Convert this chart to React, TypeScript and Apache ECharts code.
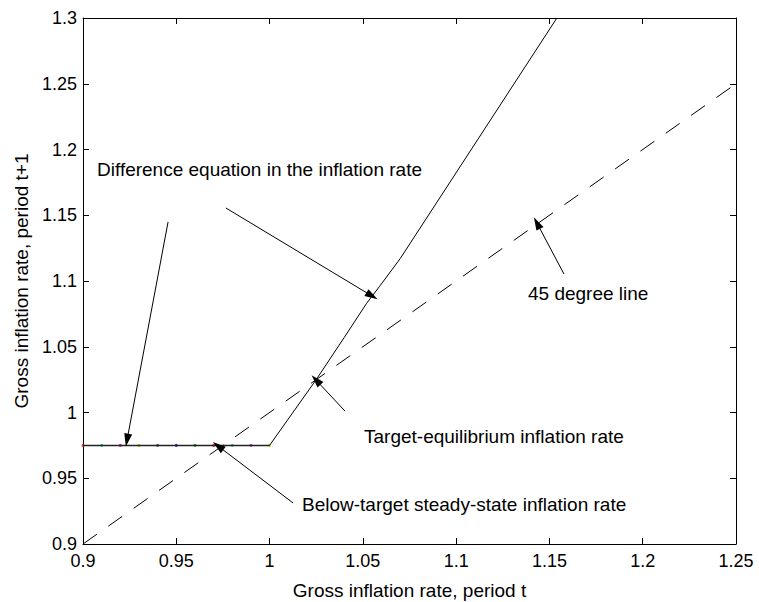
import React, { useEffect, useRef } from "react";
import * as echarts from "echarts";

// Horizontal (lower-bound) branch of the difference equation
const flatX = [0.9, 0.91, 0.92, 0.93, 0.94, 0.95, 0.96, 0.97, 0.98, 0.99, 1.0];
const flatY = [0.975, 0.975, 0.975, 0.975, 0.975, 0.975, 0.975, 0.975, 0.975, 0.975, 0.975];
// Rising branch of the difference equation
const curveX = [1.0, 1.025, 1.04, 1.052, 1.059, 1.07, 1.154];
const curveY = [0.975, 1.025, 1.057, 1.083, 1.096, 1.117, 1.3];
// 45 degree line
const diagX = [0.9, 1.25];
const diagY = [0.9, 1.25];
// Axis ticks
const xMin = 0.9, xMax = 1.25, xStep = 0.05;
const yMin = 0.9, yMax = 1.3, yStep = 0.05;
// Annotation texts
const labelDiff = "Difference equation in the inflation rate";
const label45 = "45 degree line";
const labelTarget = "Target-equilibrium inflation rate";
const labelBelow = "Below-target steady-state inflation rate";
// Arrows: [tailX, tailY, tipX, tipY] in data units
const arrows = [
  [0.9456, 1.1449, 0.9236, 0.979],
  [0.9766, 1.1555, 1.0549, 1.0886],
  [1.1578, 1.1053, 1.1433, 1.1441],
  [1.0404, 1.0011, 1.0249, 1.0247],
  [1.0126, 0.9312, 0.9724, 0.9745],
];
const dotColors = ["#008000", "#ff0000", "#00bfbf", "#bf00bf", "#bfbf00", "#404040", "#0000ff"];

const FONT = "'Liberation Sans', Arial, Helvetica, sans-serif";

export default function App() {
  const ref = useRef<HTMLDivElement>(null);
  useEffect(() => {
    if (!ref.current) return;
    const chart = echarts.init(ref.current, null, { renderer: "svg" });
    const fmt = (v: number) => String(+v.toFixed(2));
    const axisCommon = {
      type: "value" as const,
      splitLine: { show: false },
      axisLine: { show: true, onZero: false, lineStyle: { color: "#000", width: 1 } },
      axisTick: { show: true, inside: true, length: 6, lineStyle: { color: "#000" } },
    };
    const option: any = {
      animation: false,
      backgroundColor: "#fff",
      textStyle: { fontFamily: FONT },
      grid: { left: 83, top: 18, width: 653, height: 526, containLabel: false, outerBoundsMode: "none" },
      xAxis: [
        {
          ...axisCommon,
          min: xMin, max: xMax, interval: xStep,
          position: "bottom",
          axisLabel: { formatter: fmt, color: "#000", fontSize: 18, fontFamily: FONT, margin: 8 },
          name: "Gross inflation rate, period t",
          nameLocation: "middle",
          nameGap: 37,
          nameTextStyle: { color: "#000", fontSize: 19, fontFamily: FONT },
        },
        {
          ...axisCommon,
          min: xMin, max: xMax, interval: xStep,
          position: "top",
          axisLabel: { show: false },
        },
      ],
      yAxis: [
        {
          ...axisCommon,
          min: yMin, max: yMax, interval: yStep,
          position: "left",
          axisLabel: { formatter: fmt, color: "#000", fontSize: 18, fontFamily: FONT, margin: 6 },
          name: "Gross inflation rate, period t+1",
          nameLocation: "middle",
          nameGap: 51,
          nameRotate: 90,
          nameTextStyle: { color: "#000", fontSize: 19, fontFamily: FONT },
        },
        {
          ...axisCommon,
          min: yMin, max: yMax, interval: yStep,
          position: "right",
          axisLabel: { show: false },
        },
      ],
      series: [
        {
          type: "line",
          data: diagX.map((x, i) => [x, diagY[i]]),
          showSymbol: false,
          symbol: "none",
          lineStyle: { color: "#000", width: 1, type: [17, 14] },
          silent: true,
          markLine: {
            silent: true,
            symbol: ["none", "triangle"],
            symbolSize: [8, 13],
            symbolOffset: [0, 0],
            label: { show: false },
            lineStyle: { color: "#000", width: 1, type: "solid" },
            itemStyle: { color: "#000" },
            data: arrows.map((a) => [{ coord: [a[0], a[1]] }, { coord: [a[2], a[3]] }]),
          },
        },
        {
          type: "line",
          data: curveX.map((x, i) => [x, curveY[i]]),
          symbol: "none",
          lineStyle: { color: "#000", width: 1 },
          silent: true,
        },
        {
          type: "line",
          data: flatX.map((x, i) => [x, flatY[i]]),
          symbol: "none",
          lineStyle: { color: "#222", width: 1.5 },
          silent: true,
        },
        {
          type: "scatter",
          data: flatX.map((x, i) => ({
            value: [x, flatY[i]],
            itemStyle: { color: dotColors[(i + 1) % dotColors.length] },
          })),
          symbolSize: 3,
          silent: true,
        },
      ],
      graphic: [
        { type: "text", left: 97, top: 160, style: { text: labelDiff, font: `19px ${FONT}`, fill: "#000" } },
        { type: "text", left: 528, top: 284, style: { text: label45, font: `19px ${FONT}`, fill: "#000" } },
        { type: "text", left: 364, top: 427, style: { text: labelTarget, font: `19px ${FONT}`, fill: "#000" } },
        { type: "text", left: 302, top: 495, style: { text: labelBelow, font: `19px ${FONT}`, fill: "#000" } },
      ],
    };
    chart.setOption(option);
    return () => chart.dispose();
  }, []);
  return (
    <div
      ref={ref}
      style={{ position: "fixed", left: 0, top: 0, width: 759, height: 602, background: "#fff" }}
    />
  );
}
